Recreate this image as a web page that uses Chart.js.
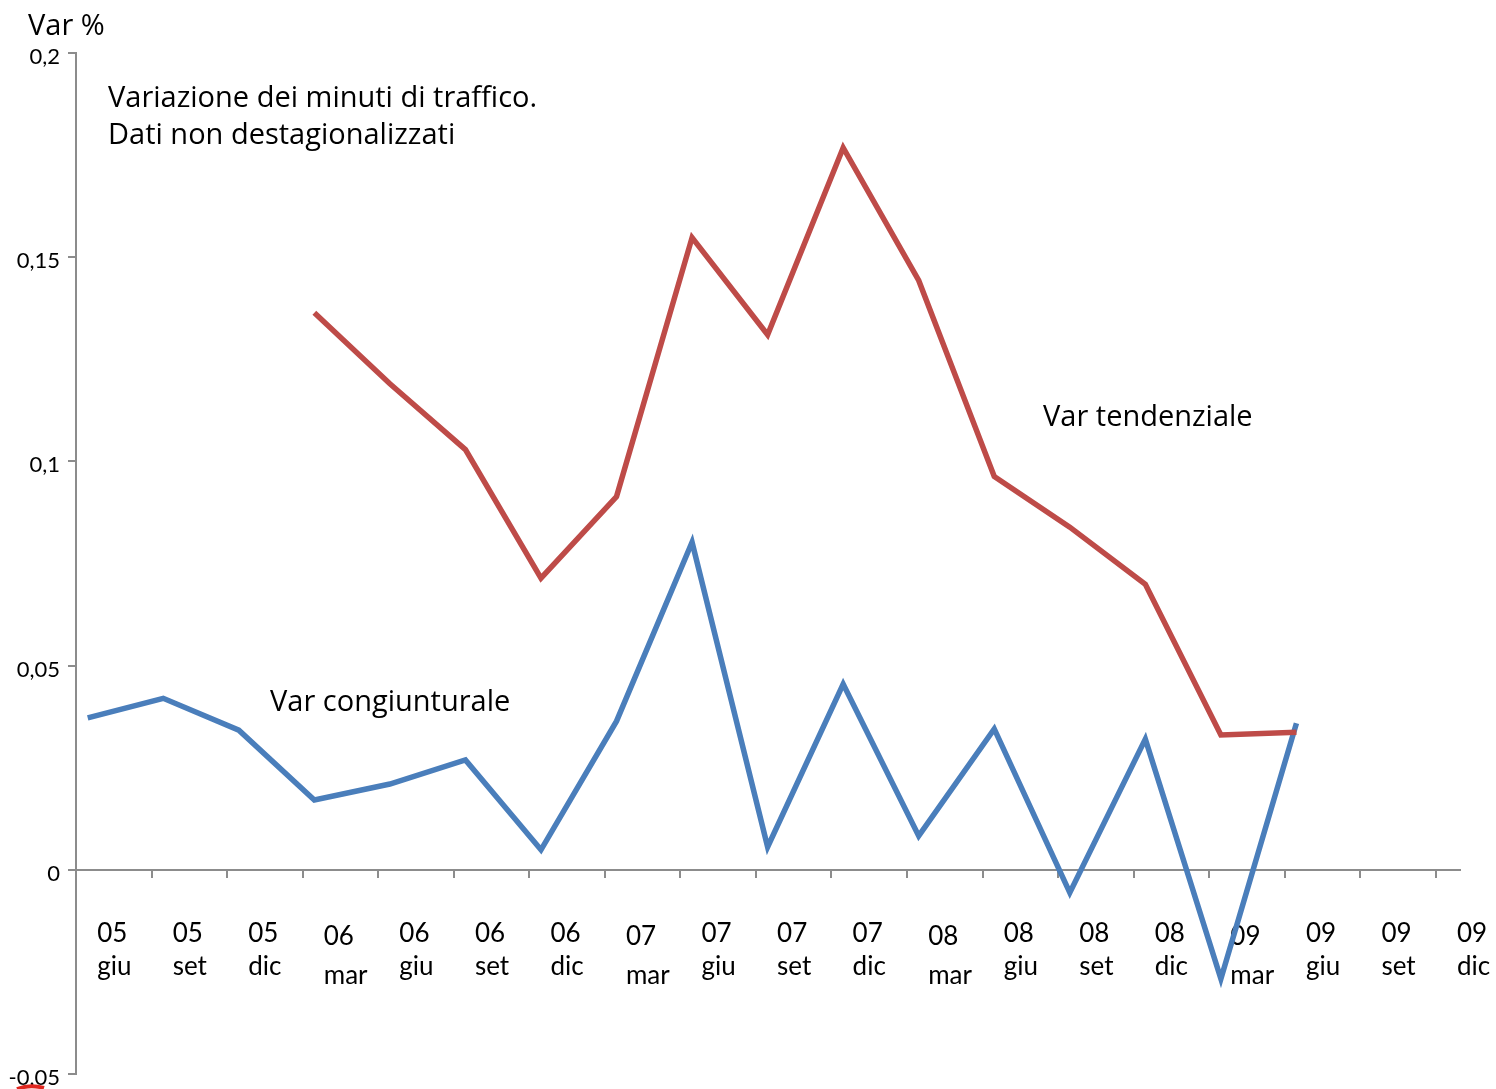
<!DOCTYPE html>
<html>
<head>
<meta charset="utf-8">
<script src="https://cdn.jsdelivr.net/npm/chart.js@4/dist/chart.umd.min.js"></script>
<style>
  html, body { margin: 0; padding: 0; background: #ffffff; }
  #wrap { width: 1496px; height: 1089px; position: relative; }
</style>
</head>
<body>
<div id="wrap"><canvas id="c"></canvas></div>
<script>
// ---- data ----
const categories = [
  ['05','giu'],['05','set'],['05','dic'],
  ['06','mar'],['06','giu'],['06','set'],['06','dic'],
  ['07','mar'],['07','giu'],['07','set'],['07','dic'],
  ['08','mar'],['08','giu'],['08','set'],['08','dic'],
  ['09','mar'],['09','giu'],['09','set'],['09','dic']
];
const varCongiunturale = [0.0372, 0.0420, 0.0342, 0.0171, 0.0210, 0.0269, 0.0049,
  0.0364, 0.0802, 0.0056, 0.0455, 0.0083, 0.0345, -0.0056, 0.0320, -0.0267, 0.0359];
const varTendenziale = [null, null, null, 0.1364, 0.1190, 0.1029, 0.0714,
  0.0914, 0.1548, 0.1310, 0.1768, 0.1443, 0.0963, 0.0839, 0.0699, 0.0330, 0.0337];
const yTickValues = [-0.05, 0, 0.05, 0.1, 0.15, 0.2];
const yTickLabels = ['-0,05', '0', '0,05', '0,1', '0,15', '0,2'];
const annotationTexts = ['Var %', 'Variazione dei minuti di traffico.', 'Dati non destagionalizzati',
  'Var tendenziale', 'Var congiunturale'];

// ---- layout constants ----
const ANNOTATION_POS = [[28, 27], [108, 99], [108, 136], [1043, 418], [270, 703]];
const POINT_OFFSET = 0.155;   // points sit slightly right of each category tick
const LABEL_OFFSET = 0.28;    // labels are left-aligned a bit right of each tick
const X_MAX = 18.32;
const AXIS_COLOR = '#8c8c8c';

function toPoints(arr) {
  const out = [];
  arr.forEach((v, i) => { out.push({ x: i + POINT_OFFSET, y: v }); });
  return out;
}

const annotationPlugin = {
  id: 'annot',
  afterDraw(chart) {
    const ctx = chart.ctx;
    ctx.save();
    ctx.fillStyle = '#000000';
    ctx.font = '29px "Open Sans"';
    ctx.textBaseline = 'middle';
    ctx.textAlign = 'left';
    annotationTexts.forEach((t, i) => ctx.fillText(t, ANNOTATION_POS[i][0], ANNOTATION_POS[i][1]));
    // small red stub at bottom-left (legend remnant)
    ctx.strokeStyle = '#e0261f';
    ctx.lineWidth = 4;
    ctx.beginPath();
    ctx.moveTo(17, 1089);
    ctx.quadraticCurveTo(30, 1084, 44, 1088);
    ctx.stroke();
    ctx.restore();
  }
};

new Chart(document.getElementById('c'), {
  type: 'line',
  data: {
    datasets: [
      {
        label: 'Var tendenziale',
        data: toPoints(varTendenziale),
        borderColor: '#be4b48',
        borderWidth: 5.5,
        pointRadius: 0,
        tension: 0,
        fill: false
      },
      {
        label: 'Var congiunturale',
        data: toPoints(varCongiunturale),
        borderColor: '#4a7ebb',
        borderWidth: 5.5,
        pointRadius: 0,
        tension: 0,
        fill: false
      }
    ]
  },
  options: {
    responsive: true,
    maintainAspectRatio: false,
    animation: false,
    devicePixelRatio: 1,
    layout: { padding: { left: 0, top: 53, right: 36, bottom: 15 } },
    plugins: { legend: { display: false }, tooltip: { enabled: false } },
    scales: {
      y: {
        type: 'linear',
        position: 'left',
        min: -0.05,
        max: 0.2,
        afterBuildTicks(s) { s.ticks = yTickValues.map(v => ({ value: v })); },
        afterFit(s) { s.width = 76; s.paddingTop = 0; s.paddingBottom = 0; },
        ticks: {
          color: '#000000',
          font: { family: 'Lato', size: 22, lineHeight: '8px' },
          padding: 8,
          // empty first line nudges the label a few pixels below its tick, as in the original
          callback(v, i) { return ['', yTickLabels[i]]; }
        },
        grid: { drawOnChartArea: false, drawTicks: true, tickLength: 8, color: AXIS_COLOR, lineWidth: 2 },
        border: { display: true, color: AXIS_COLOR, width: 2 }
      },
      x: {
        type: 'linear',
        position: { y: 0 },
        min: 0,
        max: X_MAX,
        afterBuildTicks(s) { s.ticks = categories.map((c, i) => ({ value: i })); },
        afterFit(s) { s.paddingLeft = 0; s.paddingRight = 0; },
        ticks: { display: false },
        grid: { drawOnChartArea: false, drawTicks: true, tickLength: 7, color: AXIS_COLOR, lineWidth: 2 },
        border: { display: true, color: AXIS_COLOR, width: 2 }
      },
      xLabels: {
        type: 'linear',
        axis: 'x',
        position: { y: 0 },
        min: 0,
        max: X_MAX,
        afterBuildTicks(s) { s.ticks = categories.map((c, i) => ({ value: i + LABEL_OFFSET })); },
        afterFit(s) { s.paddingLeft = 0; s.paddingRight = 0; },
        ticks: {
          color: '#000000',
          align: 'start',
          autoSkip: false,
          maxRotation: 0,
          minRotation: 0,
          padding: 47,
          font(ctx) {
            const c = categories[ctx.index];
            const isMar = c && c[1] === 'mar';
            return { family: 'Lato', size: 26, lineHeight: isMar ? '39px' : '33px' };
          },
          callback(v, i) { return categories[i]; }
        },
        grid: { display: false, drawTicks: false },
        border: { display: false }
      }
    }
  },
  plugins: [annotationPlugin]
});
</script>
</body>
</html>
